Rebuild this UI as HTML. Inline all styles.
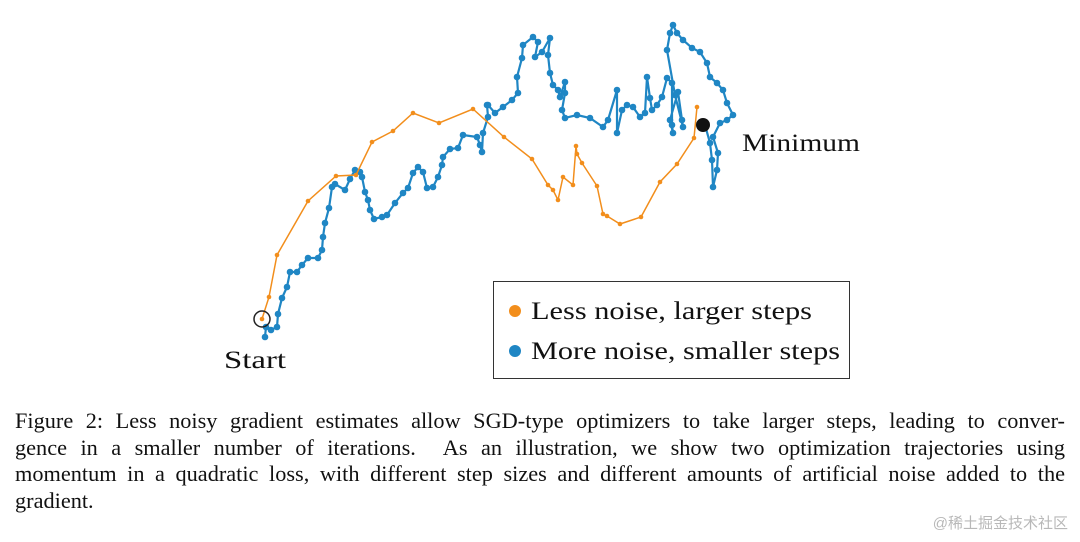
<!DOCTYPE html>
<html><head><meta charset="utf-8">
<style>
html,body{margin:0;padding:0;background:#fff;}
body{width:1080px;height:542px;position:relative;overflow:hidden;font-family:"Liberation Serif",serif;color:#111;}
svg{position:absolute;left:0;top:0;}
.cap{position:absolute;left:15px;width:1050px;font-size:22.3px;letter-spacing:0;line-height:26.6px;top:408px;}
.cap div{text-align:justify;text-align-last:justify;white-space:nowrap;}
.cap div.last{text-align-last:left;}
.wm{position:absolute;right:12px;top:512px;font-family:"Liberation Sans","Noto Sans CJK SC",sans-serif;font-size:15px;color:#b8b8b8;}
</style></head><body>
<svg id="chart" width="1080" height="400" viewBox="0 0 1080 400">
  <g id="blue"></g>
  <g id="orange"></g>
  <circle cx="262" cy="319" r="8" fill="none" stroke="#222" stroke-width="1.5"/>
  <circle cx="703" cy="125" r="7" fill="#111"/>
  <text x="224" y="368" font-size="25" textLength="62" lengthAdjust="spacingAndGlyphs" font-family="Liberation Serif, serif" fill="#111">Start</text>
  <text x="742" y="151" font-size="25" textLength="118" lengthAdjust="spacingAndGlyphs" font-family="Liberation Serif, serif" fill="#111">Minimum</text>
  <g>
    <rect x="493.5" y="281.5" width="356" height="97" fill="#fff" stroke="#333" stroke-width="1"/>
    <circle cx="515" cy="311" r="6" fill="#f28e1c"/>
    <text x="531" y="319" font-size="25" textLength="281" lengthAdjust="spacingAndGlyphs" font-family="Liberation Serif, serif" fill="#111">Less noise, larger steps</text>
    <circle cx="515" cy="351" r="6" fill="#1f86c4"/>
    <text x="531" y="359" font-size="25" textLength="309" lengthAdjust="spacingAndGlyphs" font-family="Liberation Serif, serif" fill="#111">More noise, smaller steps</text>
  </g>
</svg>
<div class="cap">
<div>Figure 2: Less noisy gradient estimates allow SGD-type optimizers to take larger steps, leading to conver-</div>
<div>gence in a smaller number of iterations. &nbsp;As an illustration, we show two optimization trajectories using</div>
<div>momentum in a quadratic loss, with different step sizes and different amounts of artificial noise added to the</div>
<div class="last">gradient.</div>
</div>
<div class="wm">@稀土掘金技术社区</div>
<script>
const orangeX=[262,269,277,308,336,356,372,393,413,439,473,504,532,548,553,558,563,573,576,577,582,597,603,607,620,641,660,677,694,697];
const orangeY=[319,297,255,201,176,175,142,131,113,123,109,137,159,185,190,200,177,185,146,154,163,186,214,216,224,217,182,164,138,107];
const blueX=[265,266,271,277,278,282,287,290,297,302,308,318,322,323,325,329,332,335,345,350,355,360,362,365,368,370,374,382,387,395,403,408,413,418,423,427,433,438,442,443,450,458,463,477,480,482,483,488,487,488,495,503,512,518,517,522,523,533,538,535,542,550,548,550,553,558,560,565,565,562,565,577,590,603,608,617,617,622,627,633,640,645,647,650,652,657,662,667,672,672,673,670,678,682,683,675,667,670,673,677,683,692,700,707,710,717,723,727,733,727,720,713,718,717,713,712,710,705];
const blueY=[337,327,330,327,314,298,287,272,272,265,258,258,250,237,223,208,187,184,190,179,170,172,177,192,200,210,219,217,215,203,193,188,173,167,172,188,187,177,165,157,149,148,135,137,145,152,133,117,105,105,113,107,100,93,77,58,45,37,42,57,52,38,55,73,85,90,97,82,93,110,118,115,118,127,120,90,133,110,105,107,117,113,77,98,110,105,97,78,83,125,133,120,92,120,127,95,50,33,25,33,40,48,52,63,77,83,90,103,115,120,123,137,153,170,187,160,143,125];
const xs=v=>v*1, ys=v=>v*1;
const NS='http://www.w3.org/2000/svg';
function draw(gid,X,Y,color,r,w){
  const g=document.getElementById(gid);
  const pl=document.createElementNS(NS,'polyline');
  
  
  pl.setAttribute('points',X.map((x,i)=>xs(x)+','+ys(Y[i])).join(' '));
  pl.setAttribute('fill','none');pl.setAttribute('stroke',color);pl.setAttribute('stroke-width',w);
  g.appendChild(pl);
  X.forEach((x,i)=>{
    const c=document.createElementNS(NS,'circle');
    
    
    c.setAttribute('cx',xs(x));c.setAttribute('cy',ys(Y[i]));c.setAttribute('r',r);c.setAttribute('fill',color);
    g.appendChild(c);
  });
}
draw('blue',blueX,blueY,'#1f86c4',3.3,2.2);
draw('orange',orangeX,orangeY,'#f28e1c',2.3,1.5);
</script>
</body></html>
